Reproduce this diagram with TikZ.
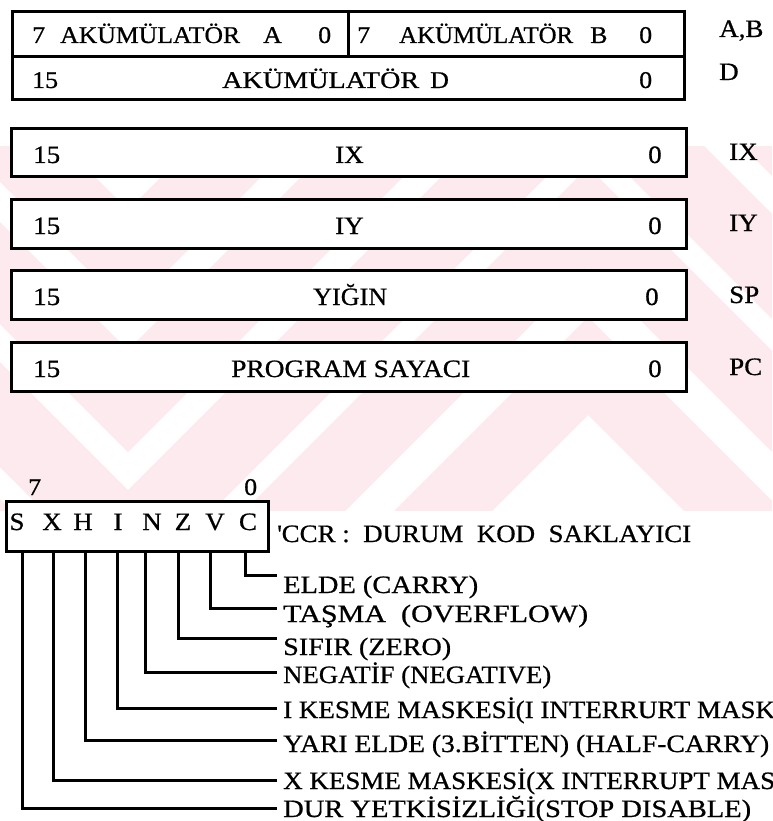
\documentclass[tikz,border=0pt]{standalone}
\usepackage{fontspec}
\setmainfont{Liberation Serif}[FakeStretch=1.08, FakeBold=0.7]
\usepackage{graphicx}
\newcommand{\fitw}[2]{\resizebox{#1pt}{\height}{#2}}
\newcommand{\fsL}{\fontsize{25}{30}\selectfont}
\newcommand{\fsS}{\fontsize{24}{28}\selectfont}
\definecolor{wmpink}{RGB}{252,234,238}
\begin{document}
\begin{tikzpicture}[x=1pt,y=-1pt,
  regbox/.style={draw, line width=3pt, fill=white, inner sep=0pt},
  regline/.style={line width=3pt},
  bitline/.style={line width=3pt},
  lt/.style={anchor=base west, inner sep=0pt, font=\fsL},
  st/.style={anchor=base west, inner sep=0pt, font=\fsS},
  bit/.style={anchor=base, inner sep=0pt, font=\fsL}]
\useasboundingbox[fill=white] (0,0) rectangle (772,821);

% watermark
\begin{scope}
  \clip (0,147) rectangle (772,510);
  \foreach \U/\L in {317/415, 167/268, 30/135, -110/-8, -250/-150, -390/-290}{
    \fill[wmpink] ({-200},{\U+132}) -- (128,{\U+460}) -- (588,\U) -- (1000,{\U+412})
      -- (1000,{\L+412}) -- (588,\L) -- (128,{\L+460}) -- ({-200},{\L+132}) -- cycle;
  }
\end{scope}

% accumulators
\node[regbox, anchor=north west, minimum width=672pt, minimum height=88pt] (bAB) at (11,10) {};
\coordinate (dL) at (11,57); \coordinate (dR) at (683,57);
\draw[regline] (dL) -- (dR);
\coordinate (vT) at (348,10); \coordinate (vB) at (348,57);
\draw[regline] (vT) -- (vB);
\node[st] (a7) at (32,43) {7};
\node[st] (aName) at (60,43) {\fitw{180}{AKÜMÜLATÖR}};
\node[st] (aA) at (263,43) {A};
\node[st] (a0) at (318,43) {0};
\node[st] (b7) at (357,43) {7};
\node[st] (bName) at (399,43) {\fitw{174}{AKÜMÜLATÖR}};
\node[st] (bB) at (590,43) {B};
\node[st] (b0) at (639,43) {0};
\node[st] (d15) at (32,88) {15};
\node[st] (dName) at (222,88) {\fitw{197}{AKÜMÜLATÖR}};
\node[st] (dD) at (430,88) {D};
\node[st] (d0) at (639,88) {0};
\node[lt] (lAB) at (719,37) {A,B};
\node[lt] (lD) at (719,80) {D};

% 16-bit registers
\node[regbox, anchor=north west, minimum width=675pt, minimum height=48pt] (bIX) at (10,127) {};
\node[regbox, anchor=north west, minimum width=675pt, minimum height=49pt] (bIY) at (10,198) {};
\node[regbox, anchor=north west, minimum width=675pt, minimum height=49pt] (bSP) at (10,269) {};
\node[regbox, anchor=north west, minimum width=675pt, minimum height=49pt] (bPC) at (10,341) {};

\node[lt] (ix15) at (33,163) {15};
\node[lt] (ixN) at (335,163) {IX};
\node[lt] (ix0) at (648,163) {0};
\node[lt] (lIX) at (729,160) {IX};

\node[lt] (iy15) at (33,234) {15};
\node[lt] (iyN) at (335,234) {IY};
\node[lt] (iy0) at (648,234) {0};
\node[lt] (lIY) at (729,231) {IY};

\node[lt] (sp15) at (33,305) {15};
\node[lt] (spN) at (313,305) {\fitw{74}{YIĞIN}};
\node[lt] (sp0) at (645,305) {0};
\node[lt] (lSP) at (729,303) {SP};

\node[lt] (pc15) at (33,377) {15};
\node[lt] (pcN) at (231,377) {\fitw{239}{PROGRAM SAYACI}};
\node[lt] (pc0) at (648,377) {0};
\node[lt] (lPC) at (729,375) {PC};

% CCR
\node[st] (c7) at (28,495) {7};
\node[st] (c0) at (244,495) {0};
\node[regbox, anchor=north west, minimum width=262pt, minimum height=50pt] (ccr) at (5,500) {};
\node[bit] (kS) at (17,530) {S};
\node[bit] (kX) at (52,530) {X};
\node[bit] (kH) at (83,530) {H};
\node[bit] (kI) at (118,530) {I};
\node[bit] (kN) at (152,530) {N};
\node[bit] (kZ) at (183,530) {Z};
\node[bit] (kV) at (215,530) {V};
\node[bit] (kC) at (248,530) {C};
\node[lt] (ccrT) at (277,542) {\fitw{414}{\textquotesingle CCR :\ \ DURUM\ \ KOD\ \ SAKLAYICI}};

% bit lines
\foreach \n/\x/\y in {C/245/575, V/210/608, Z/178/638, N/145/672, I/117/708, H/85/740, X/53/780, S/22/808}{
  \coordinate (t\n) at (\x,550);
  \coordinate (e\n) at (277,\y);
  \draw[bitline] (t\n) |- (e\n);
}

\node[lt] (fC) at (283,593) {\fitw{195}{ELDE (CARRY)}};
\node[lt] (fV) at (283,622) {\fitw{305}{TAŞMA\ \ (OVERFLOW)}};
\node[lt] (fZ) at (283,655) {\fitw{168}{SIFIR (ZERO)}};
\node[lt] (fN) at (283,683) {\fitw{268}{NEGATİF (NEGATIVE)}};
\node[lt] (fI) at (283,718) {I KESME MASKESİ(I INTERRURT MASK};
\node[lt] (fH) at (283,752) {\fitw{486}{YARI ELDE (3.BİTTEN) (HALF-CARRY)}};
\node[lt] (fX) at (283,789) {X KESME MASKESİ(X INTERRUPT MAS};
\node[lt] (fS) at (283,817) {\fitw{468}{DUR YETKİSİZLİĞİ(STOP DISABLE)}};
\end{tikzpicture}
\end{document}
